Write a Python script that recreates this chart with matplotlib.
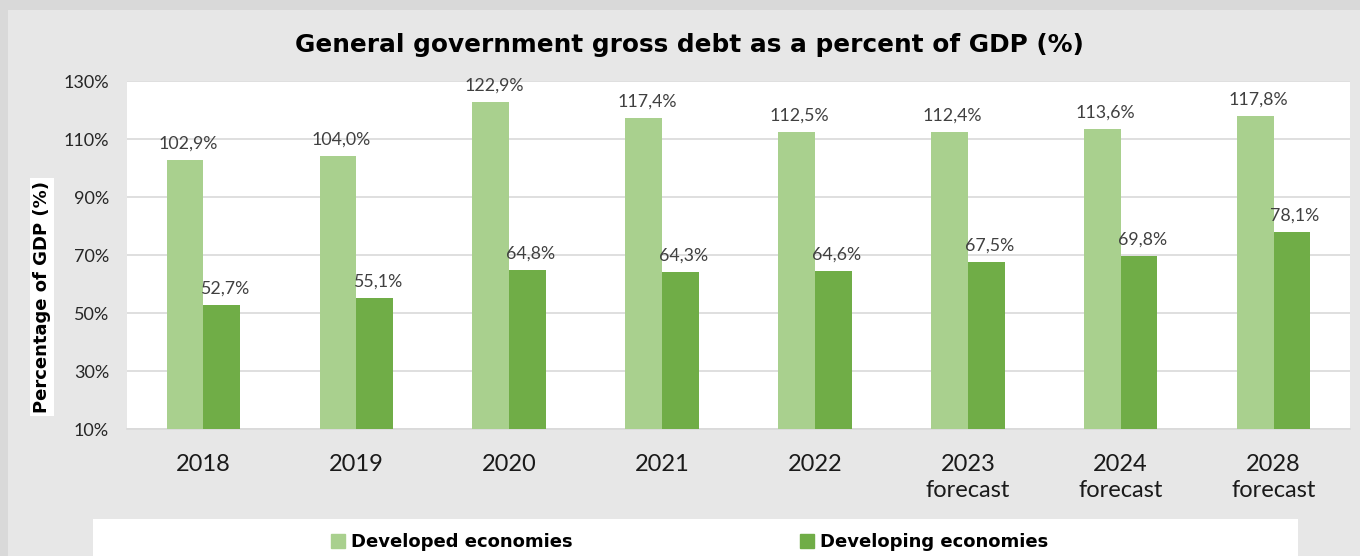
import matplotlib.pyplot as plt
from matplotlib.patches import Rectangle
import numpy as np

# Data
years = ["2018", "2019", "2020", "2021", "2022", "2023\nforecast", "2024\nforecast", "2028\nforecast"]
developed = [102.9, 104.0, 122.9, 117.4, 112.5, 112.4, 113.6, 117.8]
developing = [52.7, 55.1, 64.8, 64.3, 64.6, 67.5, 69.8, 78.1]
series_names = ["Developed economies", "Developing economies"]
yticks = [10, 30, 50, 70, 90, 110, 130]

light_green = '#a9d08e'
dark_green = '#70ad47'

fig = plt.figure(figsize=(13.6, 5.56), dpi=100, facecolor='#d9d9d9')

# chart background
fig.patches.append(Rectangle((8 / 1360, 0), 1 - 8 / 1360, 1 - 10 / 556, transform=fig.transFigure,
                             facecolor='#e7e7e7', edgecolor='none', zorder=-2))
# legend box
fig.patches.append(Rectangle((93 / 1360, 0), (1298 - 93) / 1360, 37 / 556, transform=fig.transFigure,
                             facecolor='white', edgecolor='none', zorder=-1))

ax = fig.add_axes([127 / 1360, 1 - 429 / 556, (1350 - 127) / 1360, (429 - 81) / 556])
ax.set_zorder(3)
ax.set_facecolor('white')

x = np.arange(len(years))
w = 0.24
b1 = ax.bar(x - w / 2, developed, w, color=light_green, zorder=3)
b2 = ax.bar(x + w / 2, developing, w, color=dark_green, zorder=3)

for bars, vals in ((b1, developed), (b2, developing)):
    for rect, v in zip(bars, vals):
        ax.annotate(f"{v:.1f}%".replace('.', ','), (rect.get_x() + rect.get_width() / 2 + 0.02, v),
                    xytext=(0, 6), textcoords='offset points', ha='center', va='bottom',
                    fontsize=12.8, color='#404040', family='Lato', zorder=4)

ax.set_ylim(10, 130)
ax.set_xlim(-0.5, len(years) - 0.5)
ax.set_yticks(yticks)
ax.set_yticklabels([f"{t}%" for t in yticks], fontsize=13, color='#262626', family='Lato')
ax.set_xticks(x)
ax.set_xticklabels(years, fontsize=17, color='#1a1a1a', family='Lato', linespacing=1.3)
ax.tick_params(axis='x', length=0, pad=18)
ax.tick_params(axis='y', length=0, pad=13)
ax.grid(axis='y', color='#d9d9d9', linewidth=1.2, zorder=0)
for s in ['top', 'right', 'left']:
    ax.spines[s].set_visible(False)
ax.spines['bottom'].set_color('#d9d9d9')
ax.spines['bottom'].set_linewidth(1.2)

fig.text(0.507, 1 - 45 / 556, "General government gross debt as a percent of GDP (%)",
         ha='center', va='center', fontsize=17.8, fontweight='bold', color='black')

fig.text(42 / 1360, 1 - 297 / 556, "Percentage of GDP (%)", rotation=90, ha='center', va='center',
         fontsize=13, fontweight='bold', color='black',
         bbox=dict(facecolor='white', edgecolor='none', pad=2))

# legend
handles = [Rectangle((0, 0), 1, 1, color=light_green), Rectangle((0, 0), 1, 1, color=dark_green)]
leg = fig.legend(handles, series_names, loc='center', bbox_to_anchor=(0.507, 1 - 542 / 556),
                 ncol=2, frameon=False, handlelength=0.8, handleheight=0.8,
                 handletextpad=0.3, columnspacing=12.6, prop={'weight': 'bold', 'size': 13})

fig.savefig('out.png', dpi=100, facecolor=fig.get_facecolor())
